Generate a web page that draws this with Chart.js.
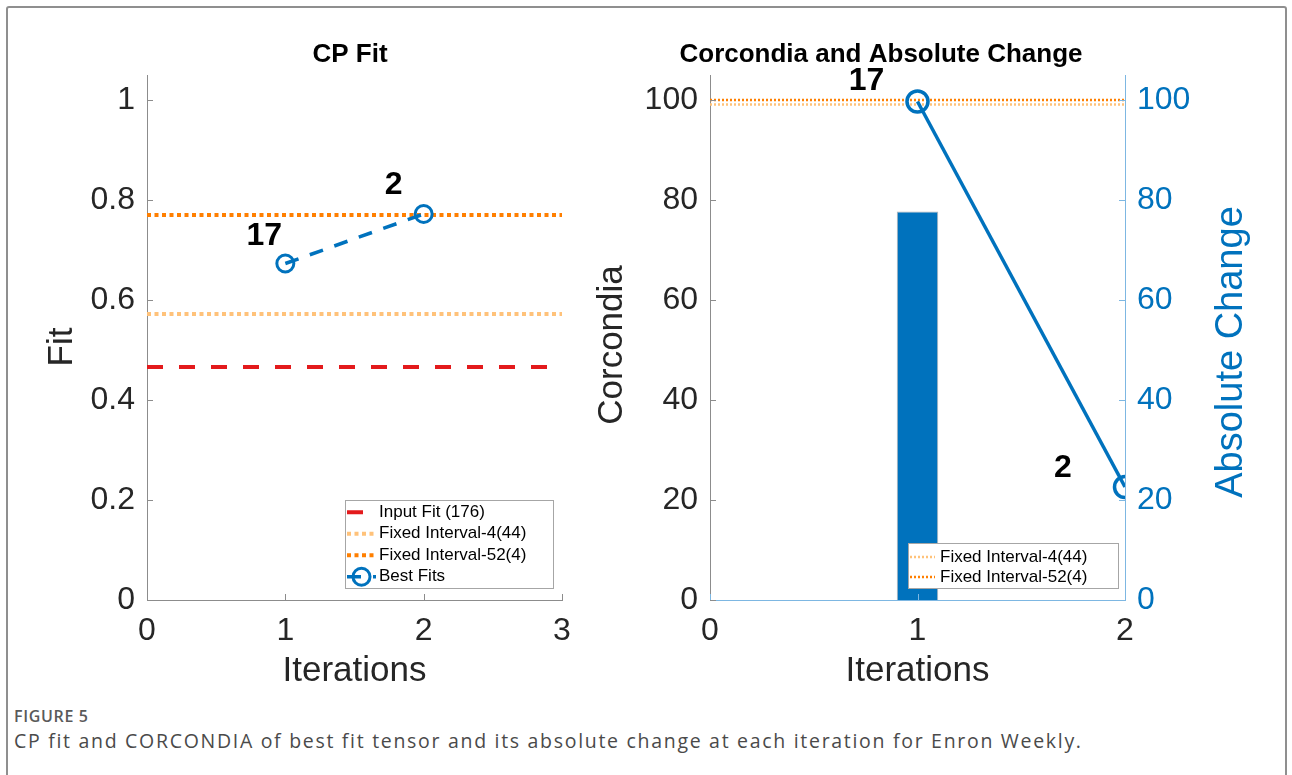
<!DOCTYPE html>
<html>
<head>
<meta charset="utf-8">
<script src="https://cdn.jsdelivr.net/npm/chart.js@4.4.1/dist/chart.umd.min.js"></script>
<style>
  html, body { margin: 0; padding: 0; background: #fff; width: 1292px; height: 775px; overflow: hidden; }
  #frame { position: absolute; left: 6px; top: 6px; width: 1281px; height: 830px; border: 2px solid #8f8f8f; border-radius: 3px; box-sizing: border-box; }
  #c1 { position: absolute; left: 0; top: 0; }
  #c2 { position: absolute; left: 560px; top: 0; }
  #figlabel { position: absolute; left: 14px; top: 705px; font: 600 16px 'Open Sans', sans-serif; color: #5a5a5a; white-space: nowrap; }
  #caption { position: absolute; left: 14px; top: 727px; font: 400 19.5px 'Open Sans', sans-serif; color: #4a4a4a; white-space: nowrap; }
</style>
</head>
<body>
<div id="frame"></div>
<canvas id="c1" width="620" height="700"></canvas>
<canvas id="c2" width="732" height="700"></canvas>
<div id="figlabel">FIGURE 5</div>
<div id="caption">CP fit and CORCONDIA of best fit tensor and its absolute change at each iteration for Enron Weekly.</div>
<script>
// ---------------- data ----------------
const iterations = [1, 2];
const bestFitRanks = ['17', '2'];
const bestFitValues = [0.673, 0.772];
const inputFitValue = 0.466;
const fixed4FitValue = 0.572;
const fixed52FitValue = 0.770;

const corcondiaValues = [77.7, null];
const absChangeValues = [99.7, 22.6];
const fixed4Corcondia = 99.1;
const fixed52Corcondia = 100.0;

const fitXRange = [0, 3];
const fitYRange = [0, 1.05];
const fitTicks = [0, 0.2, 0.4, 0.6, 0.8, 1];
const fitIterTicks = [0, 1, 2, 3];

const corXRange = [0, 2];
const corYRange = [0, 105];
const corcondiaTicks = [0, 20, 40, 60, 80, 100];
const changeTicks = [0, 20, 40, 60, 80, 100];
const corIterTicks = [0, 1, 2];

const legendLabels = ['Input Fit (176)', 'Fixed Interval-4(44)', 'Fixed Interval-52(4)', 'Best Fits'];

// ---------------- style ----------------
const FONT = "'Liberation Sans', Arial, Helvetica, sans-serif";
Chart.defaults.font.family = FONT;
const BLUE = '#0072BD', RED = '#E31A1C', ORANGE = '#FF7F00', LORANGE = '#FFC27A';
const TXT = '#262626', AXIS = '#8c8c8c', LBLUE = '#7db7e2';

const hline = (range, v) => [{ x: range[0], y: v }, { x: range[1], y: v }];
const pts = (xs, ys) => xs.map((x, i) => ({ x, y: ys[i] }));
const setTicks = arr => (s => { s.ticks = arr.map(v => ({ value: v })); });

// ---------------- plugins ----------------
const inwardTicks = {
  id: 'inwardTicks',
  afterDatasetsDraw(chart, args, opts) {
    const { ctx, chartArea: a } = chart;
    ctx.save();
    ctx.lineWidth = 1;
    Object.keys(chart.scales).forEach(id => {
      const s = chart.scales[id];
      const len = opts.length;
      ctx.strokeStyle = (opts.colors && opts.colors[id]) || AXIS;
      ctx.beginPath();
      s.ticks.forEach(t => {
        const p = Math.round(s.getPixelForValue(t.value)) + 0.5;
        if (s.isHorizontal()) { ctx.moveTo(p, a.bottom); ctx.lineTo(p, a.bottom - len); }
        else if (s.position === 'left') { ctx.moveTo(a.left, p); ctx.lineTo(a.left + len, p); }
        else { ctx.moveTo(a.right, p); ctx.lineTo(a.right - len, p); }
      });
      ctx.stroke();
    });
    ctx.restore();
  }
};

const pointTags = {
  id: 'pointTags',
  afterDatasetsDraw(chart, args, opts) {
    const { ctx } = chart;
    const meta = chart.getDatasetMeta(opts.datasetIndex);
    ctx.save();
    ctx.font = 'bold 32px ' + FONT;
    ctx.fillStyle = '#000';
    ctx.textAlign = 'center';
    ctx.textBaseline = 'middle';
    opts.labels.forEach((txt, i) => {
      const el = meta.data[i];
      ctx.fillText(txt, el.x + opts.offsets[i][0], el.y + opts.offsets[i][1]);
    });
    ctx.restore();
  }
};

const freeText = {
  id: 'freeText',
  afterDraw(chart, args, opts) {
    const { ctx } = chart;
    (opts.items || []).forEach(it => {
      ctx.save();
      ctx.font = it.font;
      ctx.fillStyle = it.color;
      ctx.textAlign = 'center';
      ctx.textBaseline = 'middle';
      ctx.translate(it.x, it.y);
      if (it.rotate) ctx.rotate(it.rotate);
      ctx.fillText(it.text, 0, 0);
      ctx.restore();
    });
  }
};

const boxLegend = {
  id: 'boxLegend',
  afterDatasetsDraw(chart, args, opts) {
    const { ctx, chartArea: a } = chart;
    const items = chart.data.datasets.filter(d => d.inLegend);
    const w = opts.width, h = opts.padTop + opts.padBottom + opts.rowHeight * items.length;
    const x0 = Math.round(a.right - opts.right - w), y0 = Math.round(a.bottom - opts.bottom - h);
    ctx.save();
    ctx.fillStyle = '#fff';
    ctx.fillRect(x0, y0, w, h);
    ctx.strokeStyle = '#a6a6a6';
    ctx.lineWidth = 1;
    ctx.strokeRect(x0 + 0.5, y0 + 0.5, w, h);
    items.forEach((d, i) => {
      const cy = y0 + opts.padTop + opts.rowHeight * (i + 0.5);
      const sx0 = x0 + opts.sampleStart, sx1 = sx0 + opts.sampleLen;
      ctx.save();
      ctx.strokeStyle = d.borderColor;
      ctx.lineWidth = d.borderWidth;
      ctx.setLineDash(d.borderDash || []);
      ctx.beginPath(); ctx.moveTo(sx0, cy); ctx.lineTo(sx1, cy); ctx.stroke();
      if (d.pointRadius > 0) {
        ctx.setLineDash([]);
        ctx.lineWidth = d.pointBorderWidth;
        ctx.beginPath(); ctx.arc((sx0 + sx1) / 2, cy, d.pointRadius, 0, Math.PI * 2); ctx.stroke();
      }
      ctx.restore();
      ctx.fillStyle = '#000';
      ctx.font = '17px ' + FONT;
      ctx.textAlign = 'left';
      ctx.textBaseline = 'middle';
      ctx.fillText(d.label, sx1 + opts.textGap, cy);
    });
    ctx.restore();
  }
};

const commonY = (ticksArr, range, color, pos, width, extra) => Object.assign({
  type: 'linear', position: pos, min: range[0], max: range[1],
  afterBuildTicks: setTicks(ticksArr),
  afterFit: s => { s.width = width; },
  grid: { display: false, drawTicks: false },
  ticks: { font: { size: 32 }, color: color, padding: 12, callback: v => String(v) }
}, extra);

// ---------------- left chart: CP Fit ----------------
new Chart(document.getElementById('c1'), {
  type: 'line',
  data: {
    datasets: [
      { label: legendLabels[0], data: hline(fitXRange, inputFitValue), borderColor: RED, borderWidth: 4,
        borderDash: [16, 16], pointRadius: 0, order: 4, inLegend: true },
      { label: legendLabels[1], data: hline(fitXRange, fixed4FitValue), borderColor: LORANGE, borderWidth: 4,
        borderDash: [4, 3.5], pointRadius: 0, order: 3, inLegend: true },
      { label: legendLabels[2], data: hline(fitXRange, fixed52FitValue), borderColor: ORANGE, borderWidth: 4,
        borderDash: [4, 3.5], pointRadius: 0, order: 2, inLegend: true },
      { label: legendLabels[3], data: pts(iterations, bestFitValues), borderColor: BLUE, borderWidth: 3.5,
        borderDash: [14, 12], pointRadius: 8.5, pointBorderWidth: 3, pointBorderColor: BLUE,
        pointBackgroundColor: 'rgba(0,0,0,0)', order: 1, inLegend: true }
    ]
  },
  options: {
    responsive: false, animation: false, events: [],
    layout: { padding: { top: 75, right: 58, bottom: 0, left: 0 } },
    scales: {
      x: {
        type: 'linear', min: fitXRange[0], max: fitXRange[1],
        afterBuildTicks: setTicks(fitIterTicks),
        afterFit: s => { s.height = 100; },
        grid: { display: false, drawTicks: false },
        border: { display: true, color: AXIS, width: 1 },
        ticks: { font: { size: 32 }, color: TXT, padding: 12, callback: v => String(v) },
        title: { display: true, text: 'Iterations', font: { size: 35 }, color: TXT, padding: { top: 0, bottom: 8 } }
      },
      y: commonY(fitTicks, fitYRange, TXT, 'left', 147, {
        border: { display: true, color: AXIS, width: 1 }
      })
    },
    plugins: {
      legend: { display: false }, tooltip: { enabled: false },
      inwardTicks: { length: 6 },
      pointTags: { datasetIndex: 3, labels: bestFitRanks, offsets: [[-21, -27], [-30, -29]] },
      boxLegend: { width: 208, right: 9, bottom: 12, padTop: 1.5, padBottom: 0.5, rowHeight: 21.5, sampleStart: 2, sampleLen: 29, textGap: 3 },
      freeText: { items: [
        { text: 'CP Fit', x: 350, y: 55, font: 'bold 26px ' + FONT, color: '#000' },
        { text: 'Fit', x: 62, y: 347, font: '35px ' + FONT, color: TXT, rotate: -Math.PI / 2 }
      ] }
    }
  },
  plugins: [inwardTicks, pointTags, boxLegend, freeText]
});

// ---------------- right chart: Corcondia and Absolute Change ----------------
new Chart(document.getElementById('c2'), {
  type: 'line',
  data: {
    datasets: [
      { label: 'Absolute Change', data: pts(iterations, absChangeValues), yAxisID: 'y2', borderColor: BLUE,
        borderWidth: 3.5, pointRadius: 10.5, pointBorderWidth: 3.5, pointBorderColor: BLUE,
        pointBackgroundColor: 'rgba(0,0,0,0)', order: 1, clip: 0 },
      { label: legendLabels[1], data: hline(corXRange, fixed4Corcondia), yAxisID: 'y', borderColor: LORANGE,
        borderWidth: 2.5, borderDash: [2, 2], pointRadius: 0, order: 4, inLegend: true },
      { label: legendLabels[2], data: hline(corXRange, fixed52Corcondia), yAxisID: 'y', borderColor: ORANGE,
        borderWidth: 2.5, borderDash: [2, 2], pointRadius: 0, order: 3, inLegend: true },
      { type: 'bar', label: 'Corcondia', data: pts(iterations, corcondiaValues), yAxisID: 'y',
        backgroundColor: BLUE, borderColor: 'rgba(40,40,40,0.35)', borderWidth: 1,
        barPercentage: 0.2, categoryPercentage: 1, order: 5 }
    ]
  },
  options: {
    responsive: false, animation: false, events: [],
    layout: { padding: { top: 75, right: 0, bottom: 0, left: 0 } },
    scales: {
      x: {
        type: 'linear', min: corXRange[0], max: corXRange[1], offset: false,
        afterBuildTicks: setTicks(corIterTicks),
        afterFit: s => { s.height = 100; },
        grid: { display: false, drawTicks: false, offset: false },
        border: { display: true, color: LBLUE, width: 1 },
        ticks: { font: { size: 32 }, color: TXT, padding: 12, callback: v => String(v) },
        title: { display: true, text: 'Iterations', font: { size: 35 }, color: TXT, padding: { top: 0, bottom: 8 } }
      },
      y: commonY(corcondiaTicks, corYRange, TXT, 'left', 150, {
        border: { display: true, color: AXIS, width: 1 }
      }),
      y2: commonY(changeTicks, corYRange, BLUE, 'right', 167, {
        border: { display: true, color: LBLUE, width: 1 }
      })
    },
    plugins: {
      legend: { display: false }, tooltip: { enabled: false },
      inwardTicks: { length: 6, colors: { y2: LBLUE, x: LBLUE } },
      pointTags: { datasetIndex: 0, labels: bestFitRanks, offsets: [[-51, -20], [-62, -19]] },
      boxLegend: { width: 210, right: 7, bottom: 12, padTop: 4, padBottom: 1, rowHeight: 20, sampleStart: 2, sampleLen: 25, textGap: 5 },
      freeText: { items: [
        { text: 'Corcondia and Absolute Change', x: 321, y: 55, font: 'bold 26px ' + FONT, color: '#000' },
        { text: 'Corcondia', x: 52, y: 345, font: '35px ' + FONT, color: TXT, rotate: -Math.PI / 2 },
        { text: 'Absolute Change', x: 672, y: 352, font: '38px ' + FONT, color: BLUE, rotate: -Math.PI / 2 }
      ] }
    }
  },
  plugins: [inwardTicks, pointTags, boxLegend, freeText]
});

// fit caption lines to the reference's line lengths
function fitWidth(id, target) {
  const el = document.getElementById(id);
  const n = el.textContent.length;
  const w = el.getBoundingClientRect().width;
  el.style.letterSpacing = ((target - w) / (n - 1)) + 'px';
}
fitWidth('caption', 1067);
fitWidth('figlabel', 74);
</script>
</body>
</html>
